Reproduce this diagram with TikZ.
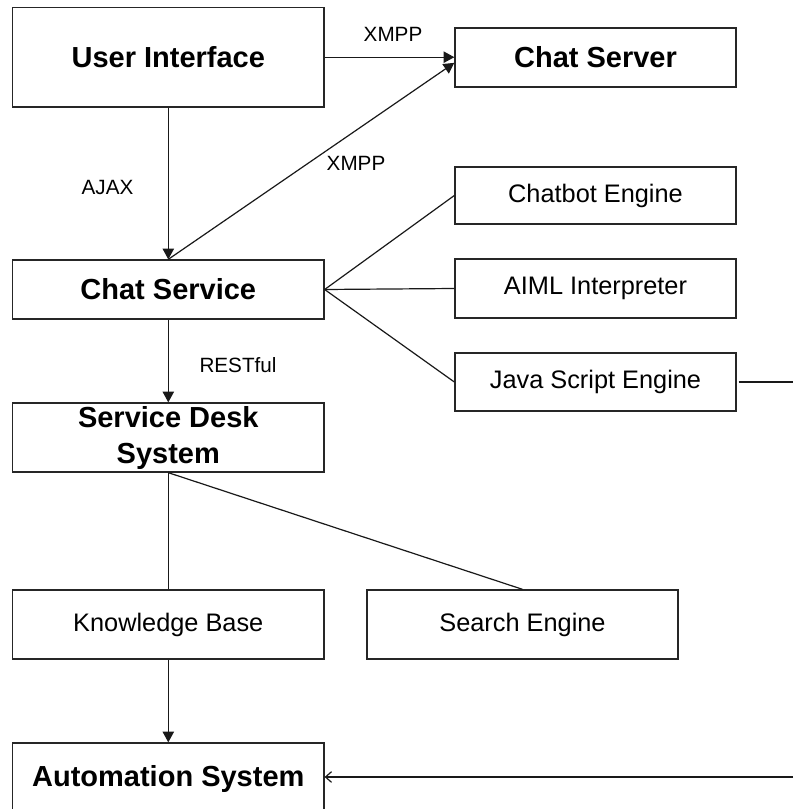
\documentclass[tikz,border=0pt]{standalone}
\usepackage{fontspec}
\setmainfont{Liberation Sans}
\usetikzlibrary{arrows.meta}

\begin{document}
\begin{tikzpicture}[x=0.75pt, y=-0.75pt,
  mainbox/.style={draw=black!85, line width=1pt, font=\fontsize{21.75}{27}\selectfont\bfseries, minimum width=233.5pt, align=center, inner sep=0pt},
  subbox/.style={draw=black!85, line width=1pt, font=\fontsize{19}{22}\selectfont, minimum width=210.75pt, inner sep=0pt},
  linklabel/.style={font=\fontsize{15.5}{18}\selectfont, inner sep=0pt},
  link/.style={black!90, line width=0.9pt},
  linkarrow/.style={link, -{Triangle[width=8.5pt,length=8pt]}},
]
\fill[white] (0,0) rectangle (793,809);
\useasboundingbox (0,0) rectangle (793,809);

% boxes
\node[mainbox, minimum height=74.8pt] (ui) at (168.3,57.2) {User Interface};
\node[mainbox, minimum width=210.75pt, minimum height=44.25pt] (server) at (595.5,57.5) {Chat Server};
\node[subbox, minimum height=42.75pt] (chatbot) at (595.5,195.5) {Chatbot Engine};
\node[mainbox, minimum height=44.25pt] (service) at (168.3,289.5) {Chat Service};
\node[subbox, minimum height=44.25pt] (aiml) at (595.5,288.5) {AIML Interpreter};
\node[subbox, minimum height=43.5pt] (java) at (595.5,382) {Java Script Engine};
\node[mainbox, minimum height=51.75pt] (desk) at (168.3,437.5) {Service Desk\\System};
\node[subbox, minimum width=233.5pt, minimum height=51.75pt] (kb) at (168.3,624.5) {Knowledge Base};
\node[subbox, minimum width=233.25pt, minimum height=51.75pt] (search) at (522.5,624.5) {Search Engine};
\node[mainbox, minimum height=54pt] (auto) at (168.3,779) {Automation System};

% labels
\node[linklabel] (xmppa) at (393,34.5) {XMPP};
\node[linklabel] (xmppb) at (356,163.3) {XMPP};
\node[linklabel] (ajax) at (107.5,187.5) {AJAX};
\node[linklabel] (rest) at (238,364.7) {RESTful};

% connectors
\draw[linkarrow] (ui.east) -- (ui.east -| server.west);
\draw[linkarrow] (ui) -- (service);
\draw[linkarrow] (service.north) -- ([yshift=-4pt]server.west);
\draw[link] (service.east) -- (chatbot.west);
\draw[link] (service.east) -- (aiml.west);
\draw[link] (service.east) -- (java.west);
\draw[linkarrow] (service) -- (desk);
\draw[link] (desk.south) -- (kb.north);
\draw[link] (desk.south) -- (search.north);
\draw[linkarrow] (kb) -- (auto);
\coordinate (jsout) at (793,382);
\draw[link] ([xshift=1.5pt]java.east) -- (jsout);
\coordinate (autoin) at (793,777);
\draw[link, -{Straight Barb[length=4.5pt,width=8pt]}] (autoin) -- (autoin -| auto.east);
\end{tikzpicture}
\end{document}
